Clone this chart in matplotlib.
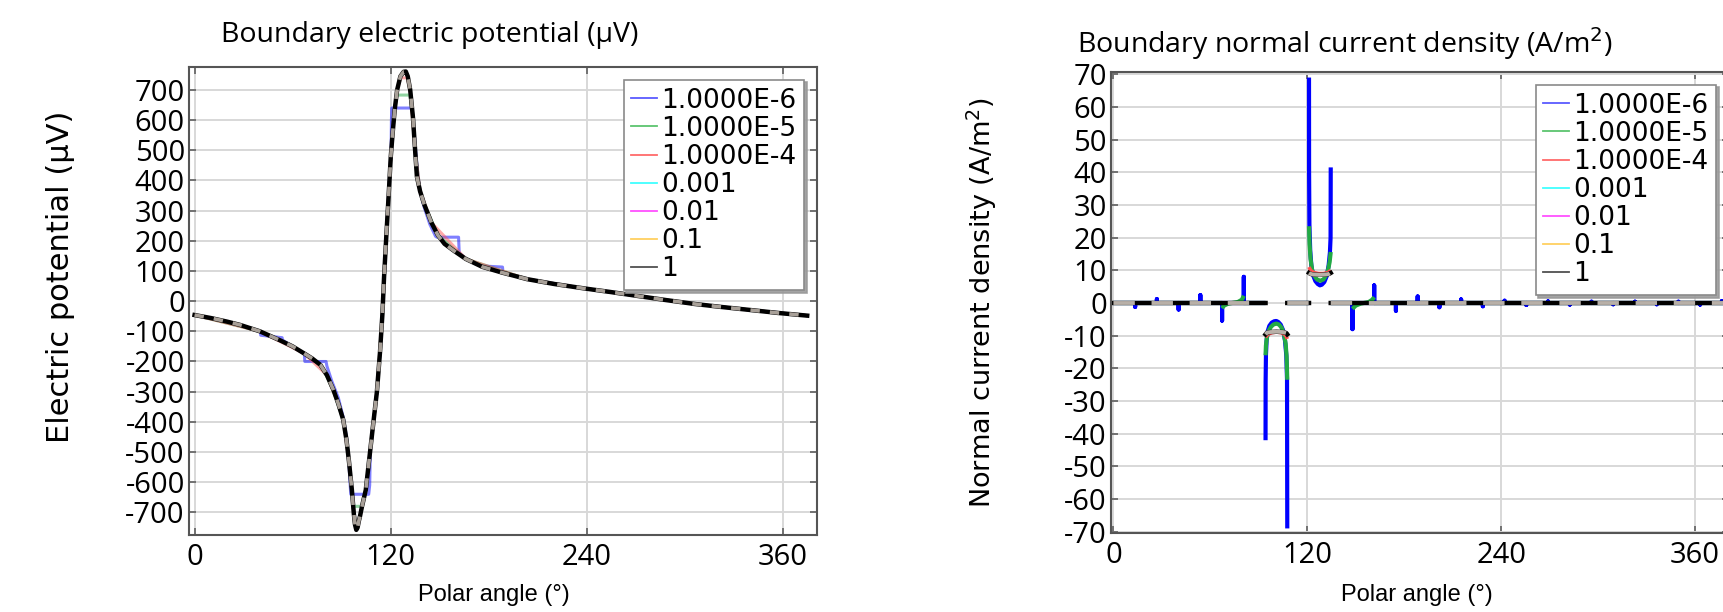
import numpy as np
import matplotlib
matplotlib.use("Agg")
import matplotlib.pyplot as plt
from matplotlib.lines import Line2D

plt.rcParams['axes.unicode_minus'] = False
nan = float('nan')

# ---------------- data ----------------
series_labels = ["1.0000E-6", "1.0000E-5", "1.0000E-4", "0.001", "0.01", "0.1", "1"]
series_colors = ["#0000ff", "#22aa44", "#ff5050", "#00e5ff", "#ff30ff", "#ffc020", "#000000"]
legend_colors = ["#5a5aff", "#5cc46e", "#ff6a6a", "#40ffff", "#ff50ff", "#ffd060", "#505050"]

x_ticks = [0, 120, 240, 360]
pot_ticks = list(range(-700, 701, 100))
cur_ticks = list(range(-70, 71, 10))

# Boundary electric potential (uV), late times (0.001 ... 1 coincide)
ang_late = [0, 10, 20, 28, 40, 52, 60, 67, 72, 77, 81, 85, 88, 91, 93, 94.5, 96.3, 97.5,
            98.2, 99, 99.8, 100.5, 101.3, 102.5, 104.8, 107.5, 109.5, 111.6, 113.5, 115, 116,
            117.4, 118.8, 120.1, 121.3, 122.5, 124, 126, 128, 129.3, 130.5, 132, 133.7, 135,
            136.1, 138, 140.5, 145, 149, 153, 159, 166, 176, 188, 203.5, 220, 237.5, 255,
            271.5, 288, 305.6, 322, 339.6, 357, 375]
pot_late = [-46, -56, -68, -79, -100, -129, -150, -173, -190, -211, -245, -294, -340, -393,
            -460, -530, -626, -705, -740, -758, -750, -730, -712, -680, -626, -496, -400,
            -301, -170, -42, 80, 218, 350, 478, 560, 634, 700, 745, 760, 761, 745, 700,
            608, 500, 413, 365, 322, 260, 218, 190, 166, 140, 114, 95, 73, 57, 43, 30, 17,
            4, -9, -19, -29, -39, -48]

# 1.0000E-6
ang_b = [0, 20, 40.3, 40.5, 53.6, 53.8, 60, 67.2, 67.5, 80.5, 81, 84, 88, 91, 93, 94.5,
         95.6, 106.6, 107.2, 107.6, 109.5, 111.6, 113.5, 115, 117.4, 119, 120.3, 120.5,
         120.7, 133.2, 133.5, 135, 136.5, 138, 140.5, 144, 147.5, 148.3, 161.6, 162, 166,
         175.2, 188.5, 188.8, 203.5, 237.5, 271.5, 305.6, 339.6, 375]
pot_b = [-46, -68, -100, -113, -121, -129, -150, -175, -200, -200, -215, -265, -320, -385,
         -450, -540, -640, -640, -610, -496, -400, -301, -170, -42, 218, 380, 500, 600, 640,
         640, 620, 520, 430, 365, 312, 255, 215, 212, 212, 160, 140, 117, 113, 95, 73, 43,
         17, -9, -29, -48]

# 1.0000E-5
ang_g = [0, 40, 60, 67, 77, 81, 85, 88, 91, 93, 94.5, 96.3, 97.2, 102.3, 103.5, 104.8,
         107.5, 111.6, 115, 117.4, 120.1, 122.5, 123.8, 131.8, 133.7, 135, 138, 140.5, 149,
         166, 203.5, 237.5, 271.5, 305.6, 339.6, 375]
pot_g = [-46, -100, -150, -173, -212, -250, -298, -345, -395, -460, -530, -626, -680, -680,
         -650, -626, -496, -301, -42, 218, 478, 634, 683, 683, 608, 500, 365, 322, 218, 140,
         73, 43, 17, -9, -29, -48]

# 1.0000E-4
ang_r = [0, 40, 67, 81, 88, 91, 94.5, 96.3, 97.5, 98.2, 100.2, 101.3, 102.5, 104.8, 107.5,
         111.6, 115, 117.4, 120.1, 122.5, 124, 126, 126.8, 130.2, 132, 135, 138, 145, 166,
         203.5, 237.5, 271.5, 305.6, 339.6, 375]
pot_r = [-46, -100, -173, -245, -340, -393, -530, -626, -705, -738, -740, -712, -680, -626,
         -496, -301, -42, 218, 478, 634, 700, 738, 740, 740, 700, 500, 365, 260, 140, 73,
         43, 17, -9, -29, -48]

# Boundary normal current density (A/m^2), late times
ang_j_late = [0, 94.15, nan, 94.15, 95, 97, 100.9, 105, 107, 107.6, nan, 107.6, 121.05, nan,
              121.05, 122, 124, 127.8, 131, 133.5, 134.5, nan, 134.5, 382]
j_late = [0, 0, nan, -9.6, -9.1, -8.9, -8.8, -8.9, -9.2, -9.6, nan, 0, 0, nan,
          9.2, 8.9, 8.7, 8.6, 8.7, 8.9, 9.2, nan, 0, 0]

# 1.0000E-4
ang_j_r = [0, 94.15, nan, 94.15, 95.5, 98, 101, 104, 106, 107, 107.6, nan, 107.6, 121.05, nan,
           121.05, 122, 124, 127, 130, 133, 134.5, nan, 134.5, 382]
j_r = [0, 0, nan, -10.5, -9.6, -9.1, -8.9, -9.1, -9.6, -10.2, -11, nan, 0, 0, nan,
       11, 10, 9.3, 9, 9, 9.4, 10, nan, 0, 0]

# 1.0000E-5
ang_j_g = [0, 67.2, nan, 67.2, 68.5, 71, 77, 79.5, 80.7, nan, 80.7, 94.15, nan,
           94.15, 94.4, 95, 96, 97.5, 99, 100.8, 102.5, 104, 105.5, 106.6, 107.2, 107.6, nan,
           107.6, 121.05, nan,
           121.05, 121.4, 122, 123, 124.5, 126, 128, 130, 131.5, 132.8, 133.8, 134.5, nan,
           134.5, 147.95, nan, 147.95, 150, 153, 158, 160.2, 161.4, nan, 161.4, 382]
j_g = [0, 0, nan, -1.6, -0.8, -0.2, 0.3, 1.0, 2.2, nan, 0, 0, nan,
       -16, -13, -10.5, -8.6, -7.3, -6.6, -6.3, -6.6, -7.5, -9.3, -12.5, -16.5, -23.5, nan,
       0, 0, nan,
       23.5, 18, 13.5, 10, 8.2, 7.2, 6.8, 7.2, 8.3, 10, 12.5, 15.6, nan,
       0, 0, nan, -1.8, -0.8, -0.2, 0.3, 1.0, 1.8, nan, 0, 0]

# 1.0000E-6 : spikes at element boundaries and the two electrode arches
spike_ang = [13.45, 26.9, 40.35, 53.8, 67.25, 80.7, 147.95, 161.4, 174.85, 188.3, 201.75,
             215.2, 228.65, 242.1, 255.55, 269.0, 282.45, 295.9, 309.35, 322.8, 336.25,
             349.7, 363.15, 376.6]
spike_val = [-1.2, 1.2, -2.0, 2.4, -5.4, 8.0, -8.0, 5.4, -2.4, 2.0, -1.3, 1.1, -1.0, 0.7,
             -0.6, 0.5, -0.5, 0.4, -0.4, 0.4, -0.4, 0.4, -0.5, 0.6]
neg_arch_ang = [94.15, 94.2, 94.4, 94.8, 95.5, 96.5, 98, 99.5, 100.8, 102, 103.5, 105, 106.2,
                107.0, 107.45, 107.6]
neg_arch_val = [-42, -24, -16, -11.5, -8.6, -7.0, -6.0, -5.6, -5.5, -5.8, -6.6, -8.3, -11.5,
                -16, -23.5, -69]
pos_arch_ang = [121.05, 121.1, 121.3, 121.8, 122.5, 123.5, 125, 126.5, 127.8, 129, 130.5, 132,
                133.2, 134, 134.4, 134.5]
pos_arch_val = [69, 40, 24, 16, 11.5, 8.6, 6.7, 5.8, 5.4, 5.6, 6.4, 8.2, 11.5, 15.5, 20, 41.5]
zero_spans = [(0, 94.15), (107.6, 121.05), (134.5, 382)]


def blue_current():
    xs, ys = [], []
    pieces = [("zero", zero_spans[0]), ("arch", (neg_arch_ang, neg_arch_val)),
              ("zero", zero_spans[1]), ("arch", (pos_arch_ang, pos_arch_val)),
              ("zero", zero_spans[2])]
    for kind, p in pieces:
        if xs:
            xs.append(nan); ys.append(nan)
        if kind == "zero":
            a0, a1 = p
            xs.append(a0); ys.append(0)
            for a, v in zip(spike_ang, spike_val):
                if a0 < a < a1:
                    xs += [a, a, a]; ys += [0, v, 0]
            xs.append(a1); ys.append(0)
        else:
            xs += list(p[0]); ys += list(p[1])
    return xs, ys


ang_j_b, j_b = blue_current()

# ---------------- figure ----------------
W, H = 1724, 612
fig = plt.figure(figsize=(W / 100, H / 100), dpi=100)


def add_ax(l, r, t, b):
    return fig.add_axes([l / W, 1 - b / H, (r - l) / W, (b - t) / H])


axL = add_ax(189, 817, 67, 535)
axR = add_ax(1111, 1729, 72, 533)

tick_font = dict(family=['Open Sans', 'DejaVu Sans'], size=21)


def style(ax, yticks, ylim, xlim):
    ax.set_xlim(*xlim)
    ax.set_ylim(*ylim)
    ax.set_xticks(x_ticks)
    ax.set_yticks(yticks)
    ax.set_xticklabels([str(v) for v in x_ticks], **tick_font)
    ax.set_yticklabels([str(v) for v in yticks], **tick_font)
    ax.grid(True, color="#d8d8d8", lw=1.4)
    ax.set_axisbelow(True)
    ax.tick_params(direction='in', length=5, width=1.1, color="#555555",
                   top=True, right=True, pad=3)
    ax.tick_params(axis='x', pad=6)
    for s in ax.spines.values():
        s.set_color("#555555")
        s.set_linewidth(1.5)


style(axL, pot_ticks, (-775, 776), (-3.4, 381))
style(axR, cur_ticks, (-70.4, 70.7), (-1.5, 381))

# potential panel
pot_sets = [(ang_b, pot_b), (ang_g, pot_g), (ang_r, pot_r),
            (ang_late, pot_late), (ang_late, pot_late), (ang_late, pot_late)]
for (a, v), c in zip(pot_sets, series_colors[:6]):
    axL.plot(a, v, color=c, lw=2.2, alpha=0.5, solid_capstyle='butt')
axL.plot(ang_late, pot_late, color="#000000", lw=3.2)
axL.plot(ang_late, pot_late, color="#a8a098", lw=2.6, dashes=(2.6, 2.8))

# current panel
cur_sets = [(ang_j_b, j_b), (ang_j_g, j_g), (ang_j_r, j_r),
            (ang_j_late, j_late), (ang_j_late, j_late), (ang_j_late, j_late)]
widths = [3.0, 3.0, 2.6, 2.6, 2.6, 2.6]
for (a, v), c, w in zip(cur_sets, series_colors[:6], widths):
    axR.plot(a, v, color=c, lw=w, solid_capstyle='butt')
axR.plot(ang_j_late, j_late, color="#000000", lw=3.2)
axR.plot(ang_j_late, j_late, color="#b8b0a8", lw=2.8, dashes=(5.5, 4.3))

# legends
handles = [Line2D([], [], color=c, lw=1.3) for c in legend_colors]
for ax in (axL, axR):
    leg = ax.legend(handles, series_labels, loc='upper right',
                    prop={'family': 'DejaVu Sans', 'size': 19},
                    fancybox=False, framealpha=1, edgecolor="#8a8a8a",
                    borderpad=0.3, labelspacing=0.08, handlelength=0.95,
                    handletextpad=0.18, borderaxespad=0.48,
                    shadow={'color': '#9a9a9a', 'alpha': 0.9})
    leg.get_frame().set_linewidth(1.2)

# titles and axis labels
fig.text(430 / W, 1 - 35 / H, "Boundary electric potential (\u00b5V)", ha='center', va='center',
         family=['Open Sans', 'DejaVu Sans'], size=20.5)
fig.text(1345 / W, 1 - 44 / H, "Boundary normal current density (A/m$^2$)", ha='center',
         va='center', family=['Open Sans', 'DejaVu Sans'], size=20.5)
fig.text(61 / W, 1 - 277 / H, "Electric potential (\u00b5V)", rotation=90, ha='center',
         va='center', family=['DejaVu Sans'], size=22)
fig.text(982 / W, 1 - 303 / H, "Normal current density (A/m$^2$)", rotation=90, ha='center',
         va='center', family=['DejaVu Sans'], size=19.5)
for xc in (494, 1417):
    fig.text(xc / W, 1 - 595 / H, "Polar angle (\u00b0)", ha='center', va='center',
             family=['Liberation Sans', 'DejaVu Sans'], size=17)

fig.savefig("out.png", dpi=100)
